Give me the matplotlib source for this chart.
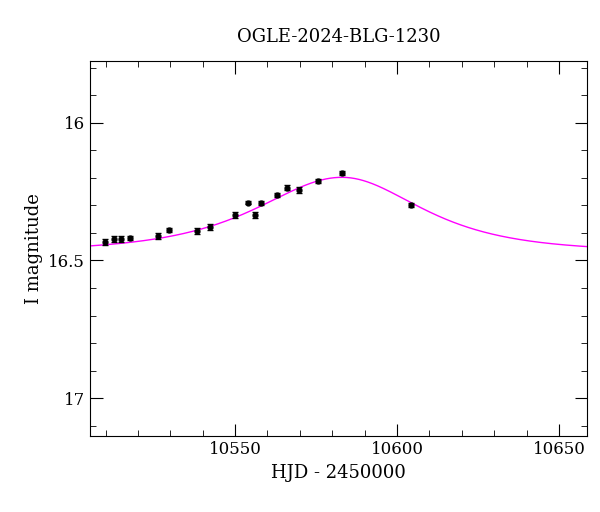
import numpy as np
import matplotlib.pyplot as plt
from matplotlib.ticker import MultipleLocator, FuncFormatter

plt.rcParams['font.family'] = 'DejaVu Serif'

hjd = [10509.8, 10512.6, 10514.8, 10517.5, 10526.2, 10529.6, 10538.2, 10542.2,
       10550.0, 10554.0, 10556.2, 10558.0, 10563.0, 10566.0, 10569.7, 10575.6,
       10583.0, 10604.3]
mag = [16.433, 16.422, 16.422, 16.418, 16.411, 16.389, 16.393, 16.378,
       16.335, 16.291, 16.335, 16.291, 16.262, 16.236, 16.244, 16.211,
       16.182, 16.298]
err = [0.010, 0.010, 0.012, 0.008, 0.010, 0.008, 0.010, 0.010,
       0.010, 0.006, 0.010, 0.008, 0.008, 0.010, 0.010, 0.008,
       0.008, 0.008]

# model curve parameters
t0, u0, m0 = 10583.0, 1.09, 16.47
te_left, te_right = 30.0, 28.0

t = np.linspace(10505, 10659, 600)
te = np.where(t < t0, te_left, te_right)
u = np.sqrt(u0**2 + ((t - t0) / te) ** 2)
amp = (u**2 + 2) / (u * np.sqrt(u**2 + 4))
model = m0 - 2.5 * np.log10(amp)

fig, ax = plt.subplots(figsize=(6, 5.12), dpi=100)
fig.subplots_adjust(left=0.15, right=0.978, top=0.88, bottom=0.148)
ax.plot(t, model, color='magenta', lw=1)
ax.errorbar(hjd, mag, yerr=err, fmt='o', ms=3.5, color='black',
            ecolor='black', elinewidth=1, capsize=2)

ax.set_xlim(10505.2, 10658.6)
ax.set_ylim(17.138, 15.778)
ax.xaxis.set_major_locator(MultipleLocator(50))
ax.xaxis.set_minor_locator(MultipleLocator(10))
ax.yaxis.set_major_locator(MultipleLocator(0.5))
ax.yaxis.set_minor_locator(MultipleLocator(0.1))
ax.yaxis.set_major_formatter(FuncFormatter(lambda v, p: f'{v:g}'))
ax.tick_params(which='both', direction='in', top=True, right=True, labelsize=12)
ax.tick_params(which='major', length=9)
ax.tick_params(which='minor', length=4)
ax.set_xlabel('HJD - 2450000', fontsize=13)
ax.set_ylabel('I magnitude', fontsize=13)
ax.set_title('OGLE-2024-BLG-1230', fontsize=13, pad=14)

fig.savefig('out.png', dpi=100)
